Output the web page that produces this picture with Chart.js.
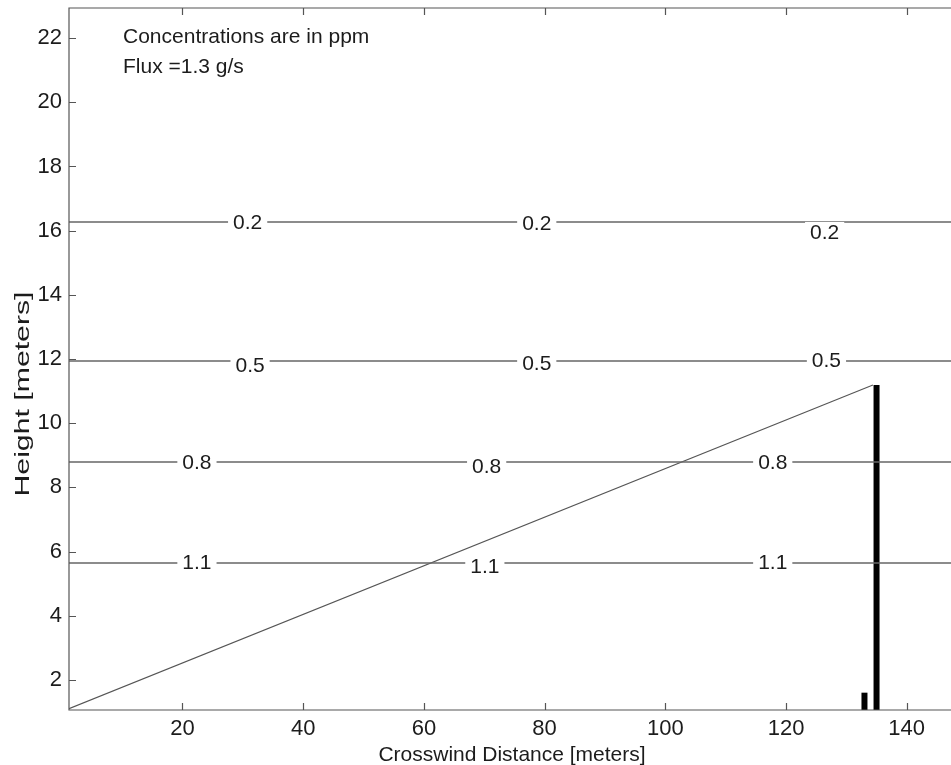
<!DOCTYPE html>
<html>
<head>
<meta charset="utf-8">
<title>Crosswind concentration contours</title>
<script src="https://cdn.jsdelivr.net/npm/chart.js@4.4.1/dist/chart.umd.min.js"></script>
<style>
    html, body { margin: 0; padding: 0; background: #fff; overflow: hidden; }
    canvas { display: block; }
</style>
</head>
<body>
<canvas id="plumeChart" width="960" height="765"></canvas>
<script>
// axis limits and ticks
const xRange = [1.2, 148];
const yRange = [1.06, 22.94];
const xTicks = [20, 40, 60, 80, 100, 120, 140];
const yTicks = [2, 4, 6, 8, 10, 12, 14, 16, 18, 20, 22];

// contour levels (ppm) and the height of each contour
const contourLevels = ["0.2", "0.5", "0.8", "1.1"];
const contourHeights = [16.27, 11.94, 8.79, 5.64];
// where each contour carries its in-line labels
const labelXs = [[30.8, 78.7, 126.4], [31.2, 78.7, 126.7], [22.4, 70.4, 117.8], [22.4, 70.1, 117.8]];
const labelYs = [[16.27, 16.24, 15.96], [11.81, 11.88, 11.97], [8.79, 8.67, 8.79], [5.68, 5.55, 5.68]];

// sloped line
const slopeX = [1.2, 134.4];
const slopeY = [1.1, 11.19];

// vertical bars
const barX = [133.0, 135.0];
const barTop = [1.6, 11.19];

const notes = ["Concentrations are in ppm", "Flux =1.3 g/s"];

const FONT = "'Liberation Sans', Arial, Helvetica, sans-serif";
const TEXT = "#1c1c1c";

function buildDatasets() {
    const sets = [];
    contourHeights.forEach(h => {
        sets.push({
            data: [{ x: xRange[0], y: h }, { x: xRange[1], y: h }],
            borderColor: "#666",
            borderWidth: 1.4
        });
    });
    sets.push({
        data: [{ x: slopeX[0], y: slopeY[0] }, { x: slopeX[1], y: slopeY[1] }],
        borderColor: "#555",
        borderWidth: 1.1
    });
    barX.forEach((bx, i) => {
        sets.push({
            data: [{ x: bx, y: yRange[0] }, { x: bx, y: barTop[i] }],
            borderColor: "#000",
            borderWidth: 6,
            borderCapStyle: "butt"
        });
    });
    return sets;
}

// contour labels, frame with inward ticks, notes and axis titles
const plotDecor = {
    id: "plotDecor",
    afterDatasetsDraw(chart) {
        const ctx = chart.ctx;
        const xs = chart.scales.x;
        const ys = chart.scales.y;
        ctx.save();
        ctx.font = "21px " + FONT;
        ctx.textAlign = "center";
        ctx.textBaseline = "middle";
        contourLevels.forEach((lvl, i) => {
            labelXs[i].forEach((lx, j) => {
                const px = xs.getPixelForValue(lx);
                const py = ys.getPixelForValue(labelYs[i][j]);
                const w = ctx.measureText(lvl).width + 10;
                ctx.fillStyle = "#fff";
                ctx.fillRect(px - w / 2, py - 10, w, 20);
                ctx.fillStyle = TEXT;
                ctx.fillText(lvl, px, py + 1);
            });
        });
        ctx.restore();
    },
    afterDraw(chart) {
        const ctx = chart.ctx;
        const area = chart.chartArea;
        const xs = chart.scales.x;
        const ys = chart.scales.y;
        ctx.save();

        // frame (right edge falls outside the window)
        ctx.strokeStyle = "#555";
        ctx.lineWidth = 1.2;
        ctx.beginPath();
        ctx.moveTo(area.right + 10, area.top);
        ctx.lineTo(area.left, area.top);
        ctx.lineTo(area.left, area.bottom);
        ctx.lineTo(area.right + 10, area.bottom);
        xTicks.forEach(v => {
            const px = Math.round(xs.getPixelForValue(v)) + 0.5;
            ctx.moveTo(px, area.bottom);
            ctx.lineTo(px, area.bottom - 7);
            ctx.moveTo(px, area.top);
            ctx.lineTo(px, area.top + 7);
        });
        yTicks.forEach(v => {
            const py = Math.round(ys.getPixelForValue(v)) + 0.5;
            ctx.moveTo(area.left, py);
            ctx.lineTo(area.left + 7, py);
        });
        ctx.stroke();

        // notes in the upper left
        ctx.fillStyle = TEXT;
        ctx.font = "21px " + FONT;
        ctx.textAlign = "left";
        ctx.textBaseline = "alphabetic";
        ctx.fillText(notes[0], 123, 43);
        ctx.fillText(notes[1], 123, 73);

        // x title
        ctx.textAlign = "center";
        ctx.fillText("Crosswind Distance [meters]", (area.left + area.right) / 2, 761);

        // y title, drawn stretched along its length like the original
        ctx.translate(28.5, 394);
        ctx.rotate(-Math.PI / 2);
        ctx.scale(1.44, 1);
        ctx.fillText("Height [meters]", 0, 0);
        ctx.restore();
    }
};

document.addEventListener("DOMContentLoaded", function() {
    const ctx = document.getElementById("plumeChart").getContext("2d");

    new Chart(ctx, {
        type: "line",
        data: { datasets: buildDatasets() },
        options: {
            responsive: false,
            animation: false,
            events: [],
            layout: { padding: { top: 8, right: 5, left: 0, bottom: 0 } },
            elements: { point: { radius: 0 }, line: { tension: 0 } },
            plugins: { legend: { display: false }, tooltip: { enabled: false } },
            scales: {
                x: {
                    type: "linear",
                    min: xRange[0],
                    max: xRange[1],
                    grid: { display: false, drawTicks: false },
                    border: { display: false },
                    afterBuildTicks: scale => { scale.ticks = xTicks.map(v => ({ value: v })); },
                    afterFit: scale => {
                        scale.height = 55;
                        scale.paddingLeft = 0;
                        scale.paddingRight = 0;
                    },
                    ticks: { color: TEXT, font: { family: FONT, size: 22 }, padding: 6, maxRotation: 0 }
                },
                y: {
                    type: "linear",
                    min: yRange[0],
                    max: yRange[1],
                    grid: { display: false, drawTicks: false },
                    border: { display: false },
                    afterBuildTicks: scale => { scale.ticks = yTicks.map(v => ({ value: v })); },
                    afterFit: scale => {
                        scale.width = 69;
                        scale.paddingTop = 0;
                        scale.paddingBottom = 0;
                    },
                    ticks: { color: TEXT, font: { family: FONT, size: 22 }, padding: 7 }
                }
            }
        },
        plugins: [plotDecor]
    });
});
</script>
</body>
</html>
